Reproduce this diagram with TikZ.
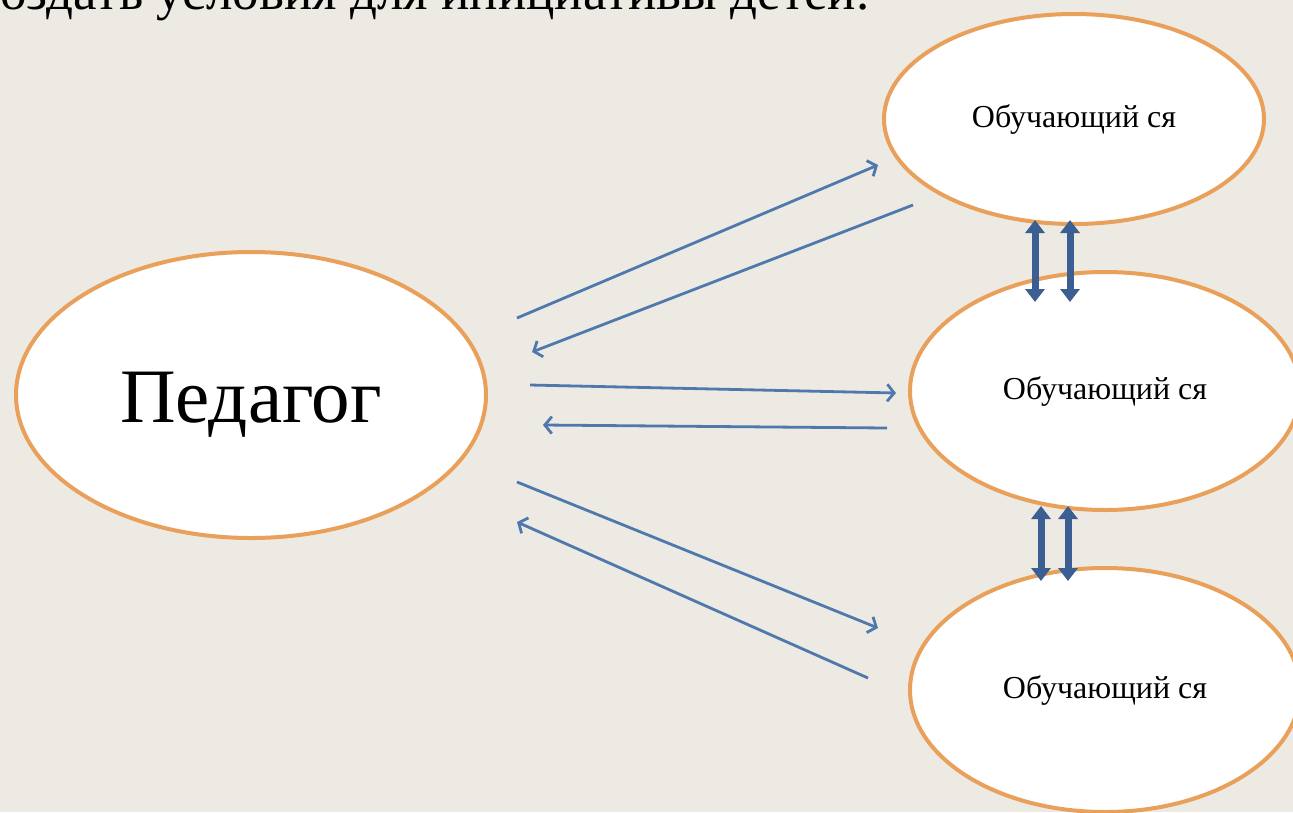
\documentclass[tikz,border=0pt]{standalone}
\usepackage{fontspec}
\setmainfont{Liberation Serif}
\usetikzlibrary{shapes.geometric,arrows.meta}
\definecolor{bgc}{HTML}{EDEAE3}
\definecolor{orng}{HTML}{E9A05A}
\definecolor{thinb}{HTML}{4F78AC}
\definecolor{thickb}{HTML}{3B5F92}
\tikzset{
  ell/.style={ellipse, draw=orng, line width=4pt, fill=white, inner sep=0pt},
  thinarrow/.style={draw=thinb, line width=2.8pt, -{Straight Barb[length=7pt,width=17pt,line width=2.8pt]}},
  thickarrow/.style={draw=thickb, line width=7pt, {Triangle[length=13pt,width=19pt]}-{Triangle[length=13pt,width=19pt]}},
  small/.style={font=\fontsize{32}{36}\selectfont},
}
\begin{document}
\begin{tikzpicture}[x=1pt,y=-1pt]
\useasboundingbox (0,0) rectangle (1293,812);
\fill[bgc] (0,0) rectangle (1293,812);
\clip (0,0) rectangle (1293,812);
\node[anchor=base west, inner sep=0pt, font=\fontsize{53}{58}\selectfont] (title) at (0,9) {оздать условия для инициативы детей.};

\node[ell, minimum width=470pt, minimum height=286pt] (ped) at (251,395) {};
\node[font=\fontsize{77}{80}\selectfont, inner sep=0pt, anchor=base] (pedtext) at (251,422) {Педагог};
\node[ell, minimum width=380pt, minimum height=210pt, small] (s1) at (1074,119) {Обучающий ся};
\node[ell, minimum width=390pt, minimum height=238pt, small] (s2) at (1105,391) {Обучающий ся};
\node[ell, minimum width=390pt, minimum height=244pt, small] (s3) at (1105,690) {Обучающий ся};

\coordinate (a1s) at (517,318); \coordinate (a1e) at (878,165);
\coordinate (a2s) at (913,205); \coordinate (a2e) at (532,352);
\coordinate (a3s) at (530,385); \coordinate (a3e) at (896,393);
\coordinate (a4s) at (887,428); \coordinate (a4e) at (543,425);
\coordinate (a5s) at (517,482); \coordinate (a5e) at (878,628);
\coordinate (a6s) at (868,678); \coordinate (a6e) at (517,522);

\draw[thinarrow] (a1s) -- (a1e);
\draw[thinarrow] (a2s) -- (a2e);
\draw[thinarrow] (a3s) -- (a3e);
\draw[thinarrow] (a4s) -- (a4e);
\draw[thinarrow] (a5s) -- (a5e);
\draw[thinarrow] (a6s) -- (a6e);

\coordinate (d1t) at (1035,220); \coordinate (d1b) at (1035,302);
\coordinate (d2t) at (1070,220); \coordinate (d2b) at (1070,302);
\coordinate (d3t) at (1041,506); \coordinate (d3b) at (1041,581);
\coordinate (d4t) at (1068,506); \coordinate (d4b) at (1068,581);
\draw[thickarrow] (d1t) -- (d1b);
\draw[thickarrow] (d2t) -- (d2b);
\draw[thickarrow] (d3t) -- (d3b);
\draw[thickarrow] (d4t) -- (d4b);
\end{tikzpicture}
\end{document}
